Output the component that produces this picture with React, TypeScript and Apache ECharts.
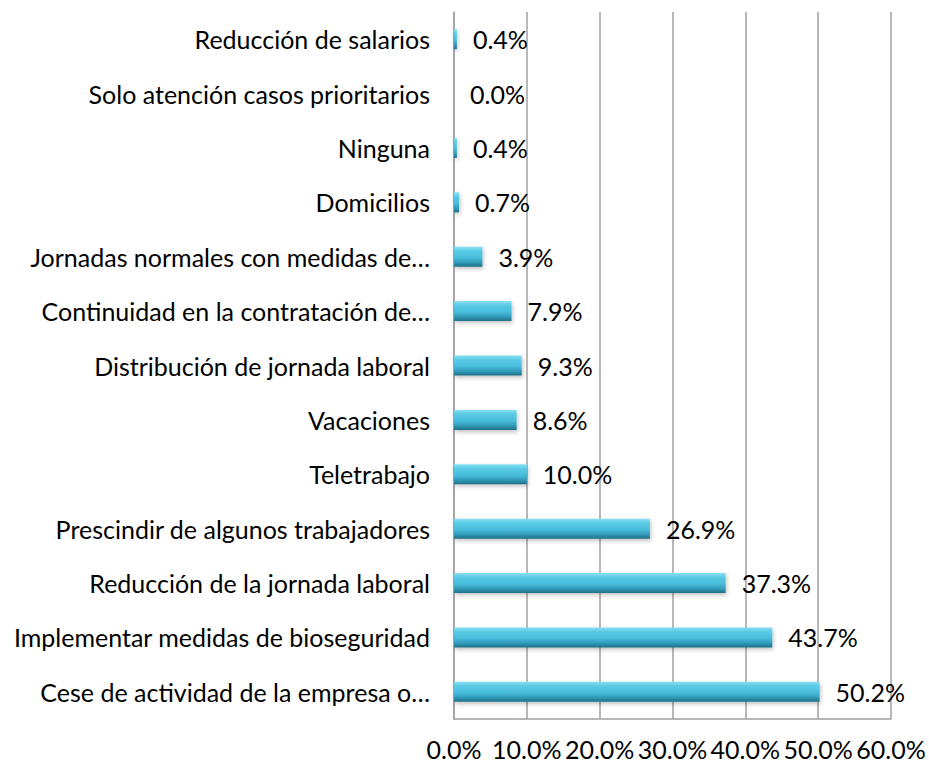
import React, { useEffect, useRef } from "react";
import * as echarts from "echarts";

const categories = [
  "Cese de actividad de la empresa o…",
  "Implementar medidas de bioseguridad",
  "Reducción de la jornada laboral",
  "Prescindir de algunos trabajadores",
  "Teletrabajo",
  "Vacaciones",
  "Distribución de jornada laboral",
  "Continuidad en la contratación de…",
  "Jornadas normales con medidas de…",
  "Domicilios",
  "Ninguna",
  "Solo atención casos prioritarios",
  "Reducción de salarios",
];
const values = [50.2, 43.7, 37.3, 26.9, 10.0, 8.6, 9.3, 7.9, 3.9, 0.7, 0.4, 0.0, 0.4];
const xTicks = [0, 10, 20, 30, 40, 50, 60];

const FONT = "Lato, 'Open Sans', sans-serif";

export default function App() {
  const ref = useRef<HTMLDivElement>(null);
  useEffect(() => {
    document.body.style.margin = "0";
    const chart = echarts.init(ref.current!, null, { renderer: "svg" });
    chart.setOption({
      animation: false,
      backgroundColor: "#ffffff",
      grid: { left: 454, right: 38, top: 12, bottom: 48, containLabel: false },
      xAxis: {
        type: "value",
        min: xTicks[0],
        max: xTicks[xTicks.length - 1],
        interval: 10,
        axisLine: { show: true, lineStyle: { color: "#a0a0a0", width: 1.5 } },
        axisTick: { show: false },
        splitLine: { show: true, lineStyle: { color: "#a0a0a0", width: 1.5 } },
        axisLabel: {
          formatter: (v: number) => v.toFixed(1) + "%",
          color: "#000",
          fontFamily: FONT,
          fontSize: 25,
          margin: 17,
        },
      },
      yAxis: {
        type: "category",
        data: categories,
        axisLine: { show: true, lineStyle: { color: "#a0a0a0", width: 1.5 } },
        axisTick: { show: false },
        splitLine: { show: false },
        axisLabel: {
          color: "#000",
          fontFamily: FONT,
          fontSize: 25,
          margin: 24,
        },
      },
      series: [
        {
          type: "bar",
          data: values,
          barWidth: 20,
          itemStyle: {
            color: new echarts.graphic.LinearGradient(0, 0, 0, 1, [
              { offset: 0, color: "#8ae0f2" },
              { offset: 0.2, color: "#5ccbe6" },
              { offset: 0.55, color: "#48bcda" },
              { offset: 0.8, color: "#3098b6" },
              { offset: 1, color: "#1e6f86" },
            ]),
            shadowColor: "rgba(0,0,0,0.25)",
            shadowBlur: 4,
            shadowOffsetX: 1,
            shadowOffsetY: 2,
          },
          label: {
            show: true,
            position: "right",
            distance: 16,
            formatter: (p: any) => Number(p.value).toFixed(1) + "%",
            color: "#000",
            fontFamily: FONT,
            fontSize: 25,
          },
        },
      ],
    });
    return () => chart.dispose();
  }, []);
  return <div ref={ref} style={{ width: 929, height: 767 }} />;
}
